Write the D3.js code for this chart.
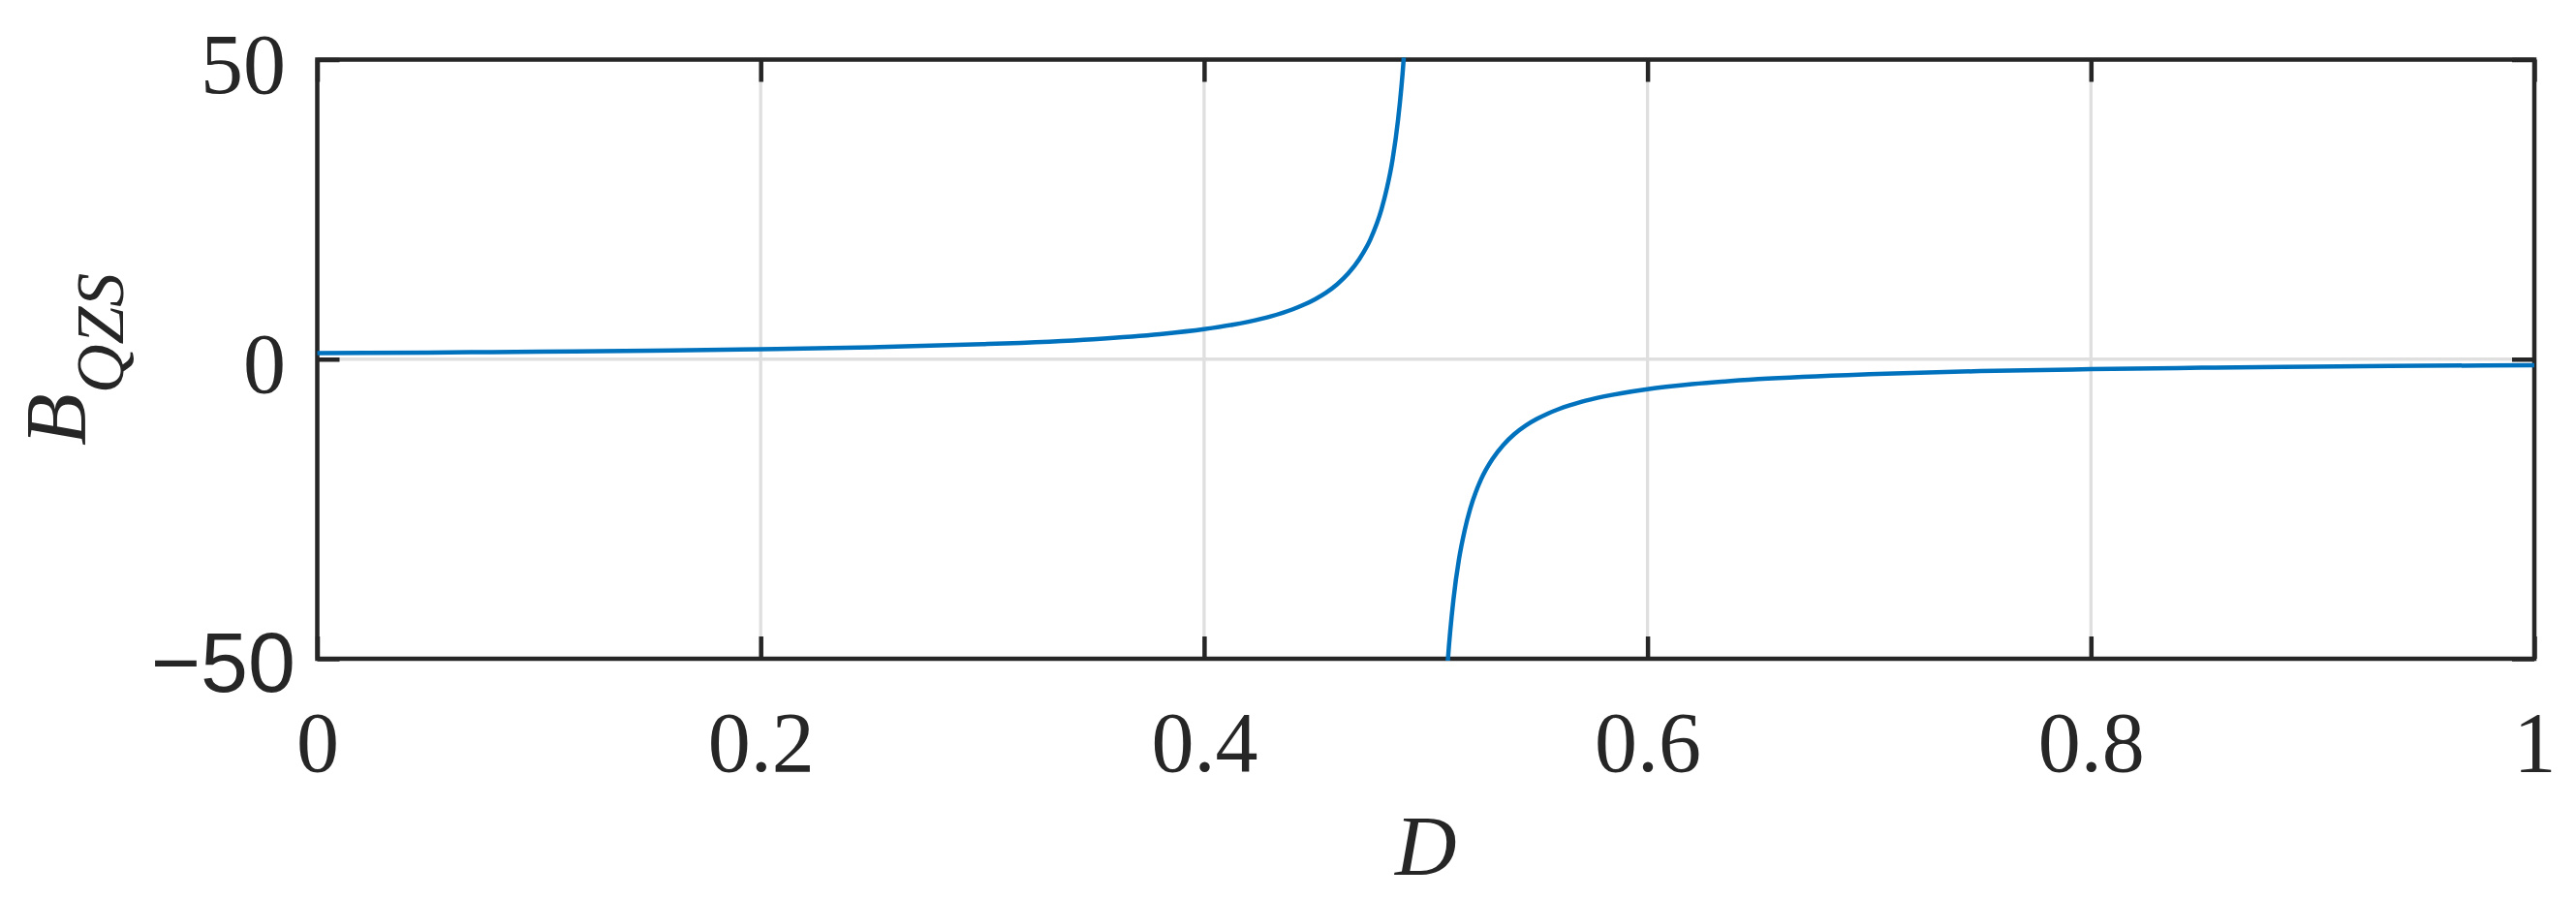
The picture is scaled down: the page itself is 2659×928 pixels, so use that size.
<!DOCTYPE html>
<html>
<head>
<meta charset="utf-8">
<script src="https://cdn.jsdelivr.net/npm/d3@7"></script>
<style>
  html, body { margin: 0; padding: 0; background: #fff; }
</style>
</head>
<body>
<svg id="chart" width="2659" height="928"></svg>
<script>
// Values

// branch left of the pole (D < 0.5)
const leftD = [0, 0.05, 0.1, 0.15, 0.2, 0.25, 0.3, 0.35, 0.38, 0.4, 0.42, 0.43, 0.44, 0.445,
               0.45, 0.455, 0.46, 0.465, 0.47, 0.475, 0.48, 0.4825, 0.485, 0.4875, 0.49, 0.4925, 0.495];
const leftB = [1.00, 1.11, 1.25, 1.43, 1.67, 2.00, 2.50, 3.33, 4.17, 5.00, 6.25, 7.14, 8.33, 9.09,
               10.0, 11.1, 12.5, 14.3, 16.7, 20.0, 25.0, 28.6, 33.3, 40.0, 50.0, 66.7, 100];

// branch right of the pole (D > 0.5)
const rightD = [0.505, 0.5075, 0.51, 0.5125, 0.515, 0.5175, 0.52, 0.525, 0.53, 0.535, 0.54, 0.545,
                0.55, 0.555, 0.56, 0.57, 0.58, 0.6, 0.62, 0.65, 0.7, 0.75, 0.8, 0.85, 0.9, 0.95, 1.0];
const rightB = [-100, -66.7, -50, -40, -33.3, -28.6, -25, -20, -16.7, -14.3, -12.5, -11.1,
                -10, -9.09, -8.33, -7.14, -6.25, -5, -4.17, -3.33, -2.5, -2.0, -1.67, -1.43, -1.25, -1.11, -1.0];

// ticks
const xTickValues = [0, 0.2, 0.4, 0.6, 0.8, 1];
const xTickLabels = ["0", "0.2", "0.4", "0.6", "0.8", "1"];
const yTickValues = [-50, 0, 50];
const yTickLabels = ["\u221250", "0", "50"];

///// SET UP /////
const svg = d3.select("#chart");
const box = {left: 327.5, right: 2616, top: 61.5, bottom: 680};
const ink = "#262626",
      gridColor = "#dfdfdf",
      lineColor = "#0072BD",
      serif = "'Liberation Serif', 'Times New Roman', serif",
      sans = "'Liberation Sans', Arial, sans-serif",
      tickLen = 23;

const x = d3.scaleLinear().domain([0, 1]).range([box.left, box.right]);
const y = d3.scaleLinear().domain([-50, 50]).range([box.bottom, box.top]);

///// GRID /////
svg.append("g").selectAll("line")
    .data(xTickValues)
    .enter().append("line")
    .attr("x1", d => x(d)).attr("x2", d => x(d))
    .attr("y1", box.top).attr("y2", box.bottom)
    .attr("stroke", gridColor).attr("stroke-width", 3.3);

svg.append("g").selectAll("line")
    .data(yTickValues)
    .enter().append("line")
    .attr("x1", box.left).attr("x2", box.right)
    .attr("y1", d => y(d)).attr("y2", d => y(d))
    .attr("stroke", gridColor).attr("stroke-width", 3.3);

///// AXES /////
function styleAxis(g) {
    g.select(".domain").remove();
    g.selectAll(".tick line").attr("stroke", ink).attr("stroke-width", 4.5);
    g.selectAll(".tick text")
        .attr("fill", ink)
        .style("font-family", serif)
        .style("font-size", "88px");
}

// bottom
svg.append("g")
    .attr("transform", "translate(0," + box.bottom + ")")
    .call(d3.axisBottom(x).tickValues(xTickValues)
        .tickFormat((d, i) => xTickLabels[i])
        .tickSizeInner(-tickLen).tickSizeOuter(0))
    .call(styleAxis)
    .selectAll(".tick text")
        .attr("y", 116).attr("dy", "0");

// top
svg.append("g")
    .attr("transform", "translate(0," + box.top + ")")
    .call(d3.axisTop(x).tickValues(xTickValues).tickFormat("")
        .tickSizeInner(-tickLen).tickSizeOuter(0))
    .call(styleAxis);

// left
const yAxisG = svg.append("g")
    .attr("transform", "translate(" + box.left + ",0)")
    .call(d3.axisLeft(y).tickValues(yTickValues)
        .tickFormat((d, i) => yTickLabels[i])
        .tickSizeInner(-tickLen).tickSizeOuter(0).tickPadding(32.5))
    .call(styleAxis);
yAxisG.selectAll(".tick text").attr("dy", "0.386em");
// MATLAB renders the negative label with its fallback sans font
yAxisG.selectAll(".tick text")
    .filter(d => d < 0)
    .style("font-family", sans)
    .attr("dx", 10);

// right
svg.append("g")
    .attr("transform", "translate(" + box.right + ",0)")
    .call(d3.axisRight(y).tickValues(yTickValues).tickFormat("")
        .tickSizeInner(-tickLen).tickSizeOuter(0))
    .call(styleAxis);

// box
svg.append("rect")
    .attr("x", box.left).attr("y", box.top)
    .attr("width", box.right - box.left).attr("height", box.bottom - box.top)
    .attr("fill", "none").attr("stroke", ink).attr("stroke-width", 4.5);

///// CURVE /////
svg.append("clipPath").attr("id", "plotClip")
    .append("rect")
    .attr("x", box.left - 2).attr("y", box.top - 2)
    .attr("width", box.right - box.left + 4).attr("height", box.bottom - box.top + 4);

const line = d3.line()
    .x(d => x(d[0]))
    .y(d => y(d[1]))
    .curve(d3.curveMonotoneX);

const branches = [d3.zip(leftD, leftB), d3.zip(rightD, rightB)];
svg.append("g").attr("clip-path", "url(#plotClip)")
    .selectAll("path")
    .data(branches)
    .enter().append("path")
    .attr("d", line)
    .attr("fill", "none")
    .attr("stroke", lineColor)
    .attr("stroke-width", 4.5);

///// LABELS /////
svg.append("text")
    .attr("x", (box.left + box.right) / 2)
    .attr("y", 903)
    .attr("text-anchor", "middle")
    .attr("fill", ink)
    .style("font-family", serif)
    .style("font-style", "italic")
    .style("font-size", "88px")
    .text("D");

const yLabel = svg.append("text")
    .attr("transform", "translate(87," + ((box.top + box.bottom) / 2) + ") rotate(-90)")
    .attr("text-anchor", "middle")
    .attr("fill", ink)
    .style("font-family", serif)
    .style("font-style", "italic")
    .style("font-size", "88px");
yLabel.append("tspan").text("B");
yLabel.append("tspan").attr("dy", 40).style("font-size", "70px").text("QZS");
</script>
</body>
</html>
